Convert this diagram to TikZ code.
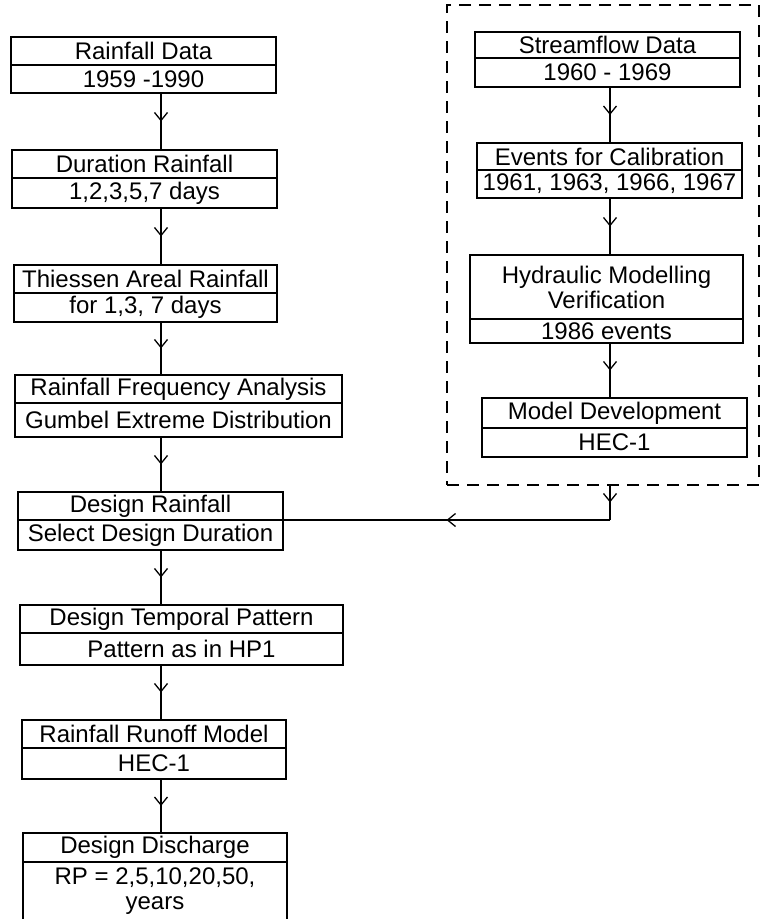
\documentclass[tikz,border=0pt]{standalone}
\usepackage{fontspec}
\setmainfont{Liberation Sans}
\usetikzlibrary{positioning,arrows.meta,decorations.markings}

\tikzset{
  cell/.style={draw, line width=1.2pt, rectangle, inner sep=0pt, outer sep=0pt,
    align=center, font=\fontsize{24}{25}\selectfont},
  frame/.style={draw, dashed, dash pattern=on 12pt off 8pt, line width=1.2pt,
    inner sep=0pt, outer sep=0pt},
  flow/.style={line width=1.2pt, postaction={decorate},
    decoration={markings, mark=at position 0.5 with
      {\arrow{Straight Barb[length=8pt,width=13pt,line width=1.3pt]}}}},
}

\begin{document}
\begin{tikzpicture}[x=1pt,y=-1pt]

  \useasboundingbox (0,0) rectangle (765,919);

  % left column
  \node[cell, minimum width=265, minimum height=28] (a0) at (143.5,51) {Rainfall Data};
  \node[cell, minimum width=265, minimum height=28, below=0pt of a0] (a0b) {1959 -1990};
  \node[cell, minimum width=265, minimum height=28] (a1) at (144.5,164) {Duration Rainfall};
  \node[cell, minimum width=265, minimum height=30, below=0pt of a1] (a1b) {1,2,3,5,7 days};
  \node[cell, minimum width=263, minimum height=28] (a2) at (145.5,279) {Thiessen Areal Rainfall};
  \node[cell, minimum width=263, minimum height=29, below=0pt of a2] (a2b) {for 1,3, 7 days};
  \node[cell, minimum width=327, minimum height=28] (a3) at (178.5,389) {Rainfall Frequency Analysis};
  \node[cell, minimum width=327, minimum height=34, below=0pt of a3] (a3b) {Gumbel Extreme Distribution};
  \node[cell, minimum width=265, minimum height=28] (a4) at (150.5,506) {Design Rainfall};
  \node[cell, minimum width=265, minimum height=30, below=0pt of a4] (a4b) {Select Design Duration};
  \node[cell, minimum width=323, minimum height=28] (a5) at (181.5,619) {Design Temporal Pattern};
  \node[cell, minimum width=323, minimum height=32, below=0pt of a5] (a5b) {Pattern as in HP1};
  \node[cell, minimum width=264, minimum height=28] (a6) at (154,734) {Rainfall Runoff Model};
  \node[cell, minimum width=264, minimum height=31, below=0pt of a6] (a6b) {HEC-1};
  \node[cell, minimum width=264, minimum height=29] (a7) at (155,847.5) {Design Discharge};
  \node[cell, minimum width=264, minimum height=59, below=0pt of a7] (a7b) {RP = 2,5,10,20,50,\\years};

  % right column
  \node[frame, minimum width=312, minimum height=480] (grp) at (603,245) {};
  \node[cell, minimum width=265, minimum height=26] (b0) at (607.5,45) {Streamflow Data};
  \node[cell, minimum width=265, minimum height=29, below=0pt of b0] (b0b) {1960 - 1969};
  \node[cell, minimum width=265, minimum height=27] (b1) at (609.5,156.5) {Events for Calibration};
  \node[cell, minimum width=265, minimum height=28, below=0pt of b1] (b1b) {1961, 1963, 1966, 1967};
  \node[cell, minimum width=273, minimum height=64] (b2) at (606.5,287) {Hydraulic Modelling\\Verification};
  \node[cell, minimum width=273, minimum height=24, below=0pt of b2] (b2b) {1986 events};
  \node[cell, minimum width=265, minimum height=30] (b3) at (614.5,413) {Model Development};
  \node[cell, minimum width=265, minimum height=29, below=0pt of b3] (b3b) {HEC-1};

  \coordinate (spL) at (161,0);
  \coordinate (spR) at (610,0);
  \coordinate (bend) at (a4b.north east -| spR);

  \draw[flow] (a0b.south -| spL) -- (a1.north -| spL);
  \draw[flow] (a1b.south -| spL) -- (a2.north -| spL);
  \draw[flow] (a2b.south -| spL) -- (a3.north -| spL);
  \draw[flow] (a3b.south -| spL) -- (a4.north -| spL);
  \draw[flow] (a4b.south -| spL) -- (a5.north -| spL);
  \draw[flow] (a5b.south -| spL) -- (a6.north -| spL);
  \draw[flow] (a6b.south -| spL) -- (a7.north -| spL);

  \draw[flow] (b0b.south -| spR) -- (b1.north -| spR);
  \draw[flow] (b1b.south -| spR) -- (b2.north -| spR);
  \draw[flow] (b2b.south -| spR) -- (b3.north -| spR);

  \draw[flow] (grp.south -| spR) -- (bend);
  \draw[flow] (bend) -- (a4b.north east);

\end{tikzpicture}
\end{document}
